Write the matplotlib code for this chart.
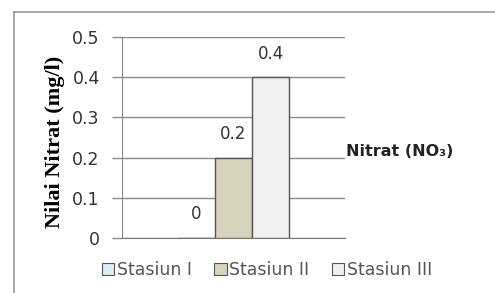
import matplotlib
matplotlib.use("Agg")
import matplotlib.pyplot as plt
from matplotlib.lines import Line2D
from matplotlib.patches import Patch

stations = ["Stasiun I", "Stasiun II", "Stasiun III"]
values = [0.0, 0.2, 0.4]
labels = ["0", "0.2", "0.4"]
colors = ["#dbeef4", "#d8d3bd", "#f0f0f0"]
yticks = [0, 0.1, 0.2, 0.3, 0.4, 0.5]
series_name = "Nitrat (NO₃)"
ylabel = "Nilai Nitrat (mg/l)"

fig = plt.figure(figsize=(4.95, 2.93), dpi=100)
ax = fig.add_axes([122 / 495, 1 - 238 / 293, 223 / 495, 201 / 293])

pos = [-1, 0, 1]
for x, v, c, lab in zip(pos, values, colors, labels):
    ax.bar(x, v, width=1.0, color=c, edgecolor="#555555", linewidth=1.0, zorder=3)
    ax.annotate(lab, (x, v), xytext=(0, 17), textcoords="offset points",
                ha="center", va="center", fontsize=12, color="#333333")

ax.set_xlim(-3.0, 3.0)
ax.set_ylim(0, 0.5)
ax.set_yticks(yticks)
ax.set_yticklabels([f"{t:g}" for t in yticks], fontsize=12.5, color="#333333")
ax.set_xticks([])
ax.yaxis.grid(True, color="#8a8a8a", linewidth=1.0)
ax.set_axisbelow(True)
ax.tick_params(axis="y", length=7, color="#8a8a8a", width=1.0, pad=9)
for s in ["top", "right"]:
    ax.spines[s].set_visible(False)
ax.spines["left"].set_color("#8a8a8a")
ax.spines["bottom"].set_color("#777777")

fig.text(55 / 495, 1 - 142 / 293, ylabel, rotation=90, ha="center", va="center",
         fontsize=16, fontweight="bold", family="Liberation Serif")
fig.text(346 / 495, 1 - 151 / 293, series_name, ha="left", va="center",
         fontsize=11.5, fontweight="bold", color="#222222")

handles = [Patch(facecolor=c, edgecolor="#555555", linewidth=0.8) for c in colors]
fig.legend(handles, stations, loc="center", bbox_to_anchor=(267 / 495, 1 - 270 / 293),
           ncol=3, frameon=False, fontsize=12.5, handlelength=0.7, handleheight=0.7,
           handletextpad=0.15, columnspacing=1.3, labelcolor="#555555")

# outer chart frame
fig.add_artist(Line2D([14 / 495, 1.0], [1 - 12 / 293] * 2, color="#999999", lw=1.2))
fig.add_artist(Line2D([14 / 495] * 2, [0.0, 1 - 12 / 293], color="#999999", lw=1.2))

fig.savefig("out.png", dpi=100)
